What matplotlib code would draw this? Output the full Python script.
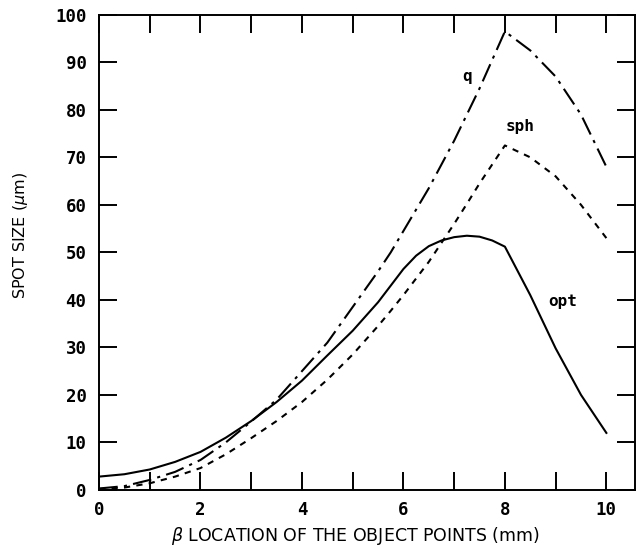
import matplotlib
matplotlib.use("Agg")
import matplotlib.pyplot as plt
from matplotlib.ticker import MultipleLocator

x = [0, 0.5, 1, 1.5, 2, 2.5, 3, 3.5, 4, 4.5, 5, 5.5, 5.75, 6, 6.25, 6.5, 6.75, 7, 7.25, 7.5, 7.75, 8, 8.5, 9, 9.5, 10]
opt = [2.8, 3.3, 4.3, 5.9, 8.0, 11.0, 14.5, 18.5, 23.0, 28.3, 33.5, 39.5, 43.0, 46.5, 49.3, 51.3, 52.5, 53.2, 53.5, 53.3, 52.5, 51.2, 41.0, 29.8, 20.0, 12.0]
q = [0.3, 0.8, 2.1, 3.8, 6.3, 10.0, 14.4, 19.0, 25.0, 31.0, 38.5, 46.0, 50.0, 54.5, 59.0, 63.5, 68.5, 73.5, 79.0, 84.5, 90.5, 96.5, 92.5, 87.0, 79.0, 68.0]
sph = [0.2, 0.5, 1.4, 2.8, 4.6, 7.5, 10.9, 14.5, 18.5, 23.2, 28.5, 34.5, 37.7, 41.0, 44.5, 48.0, 52.0, 56.0, 60.2, 64.5, 68.5, 72.5, 70.0, 66.0, 60.0, 53.0]
xticks = [0, 2, 4, 6, 8, 10]
yticks = [0, 10, 20, 30, 40, 50, 60, 70, 80, 90, 100]

fig = plt.figure(figsize=(6.43, 5.48), dpi=100)
ax = fig.add_axes([0.154, 0.106, 0.834, 0.867])

lw = 1.5
ax.plot(x, opt, color="black", lw=lw)
ax.plot(x, q, color="black", lw=lw, dashes=(9, 3, 1.5, 3))
ax.plot(x, sph, color="black", lw=lw, dashes=(3, 3))

lab_kw = dict(fontsize=11.5, fontweight="bold", family="DejaVu Sans Mono", ha="center", va="center")
ax.text(7.26, 87, "q", **lab_kw)
ax.text(8.3, 76.5, "sph", **lab_kw)
ax.text(9.13, 39.6, "opt", **lab_kw)

ax.set_xlim(0, 10.57)
ax.set_ylim(0, 100)
ax.set_xticks(xticks)
ax.set_xticklabels([str(v) for v in xticks])
ax.set_yticks(yticks)
ax.set_yticklabels([str(v) for v in yticks])
ax.xaxis.set_minor_locator(MultipleLocator(1))
ax.tick_params(which="both", direction="in", length=13, width=1.4, top=True, right=True,
               labelsize=12.5)
ax.tick_params(axis="y", pad=9)
ax.tick_params(axis="x", pad=8)
for lab in ax.get_xticklabels() + ax.get_yticklabels():
    lab.set_fontfamily("DejaVu Sans Mono")
    lab.set_fontweight("bold")
for s in ax.spines.values():
    s.set_linewidth(1.4)

ax.set_xlabel(r"$\beta$ LOCATION OF THE OBJECT POINTS (mm)", fontsize=12.5, family="DejaVu Sans")
ax.set_ylabel(r"SPOT SIZE ($\mu$m)", fontsize=11.5, family="DejaVu Sans")
ax.xaxis.set_label_coords(0.478, -0.098)
ax.yaxis.set_label_coords(-0.147, 0.535)
ax.xaxis.label.set_va("center")
ax.yaxis.label.set_va("center")

fig.savefig("out.png", dpi=100)
